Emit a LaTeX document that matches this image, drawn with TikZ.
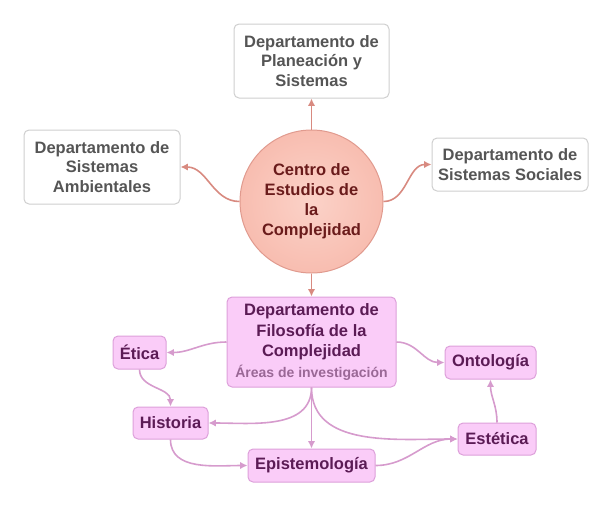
\documentclass[tikz,border=0pt]{standalone}
\usepackage{fontspec}
\setmainfont{Liberation Sans}
\usepackage{xcolor}
\usetikzlibrary{shapes.geometric,arrows.meta,positioning}

\definecolor{grayline}{HTML}{CFCFCF}
\definecolor{graytext}{HTML}{555555}
\definecolor{circfill}{HTML}{F8BDB0}
\definecolor{circlight}{HTML}{FBD2C8}
\definecolor{circline}{HTML}{E09A8E}
\definecolor{circtext}{HTML}{6A1B1B}
\definecolor{redarrow}{HTML}{D88A80}
\definecolor{pinkfill}{HTML}{FACCF8}
\definecolor{pinkline}{HTML}{DDA0DA}
\definecolor{pinktext}{HTML}{5B1B55}
\definecolor{pinksub}{HTML}{9A6896}
\definecolor{pinkarrow}{HTML}{D69BCD}

\begin{document}
\begin{tikzpicture}[
  x=1pt, y=-1pt,
  dept/.style={draw=grayline, line width=1pt, rounded corners=5pt, fill=white, align=center, text=graytext, inner sep=0pt, font=\bfseries\fontsize{16.5}{19.5}\selectfont},
  centro/.style={draw=circline, line width=1pt, circle, inner color=circlight, outer color=circfill, align=center, text=circtext, inner sep=0pt, minimum size=143pt, font=\bfseries\fontsize{16.5}{20}\selectfont},
  area/.style={draw=pinkline, line width=1pt, rounded corners=5pt, fill=pinkfill, align=center, text=pinktext, inner sep=0pt, font=\bfseries\fontsize{16.5}{20.5}\selectfont},
  arr/.style={-{Latex[length=2.6mm,width=2.6mm]}, line width=1.6pt, draw=redarrow},
  parr/.style={-{Latex[length=2.6mm,width=2.6mm]}, line width=1.6pt, draw=pinkarrow}
]
\useasboundingbox (0,0) rectangle (610,504);

\node[centro] (centro) at (311.5,201.5) {Centro de\\Estudios de\\la\\Complejidad};
\node[dept, minimum width=155pt, minimum height=74pt] (plan) at (311.5,61) {Departamento de\\Planeación y\\Sistemas};
\node[dept, minimum width=156pt, minimum height=74pt] (amb) at (102,167) {Departamento de\\Sistemas\\Ambientales};
\node[dept, minimum width=156pt, minimum height=53pt] (soc) at (510,164.5) {Departamento de\\Sistemas Sociales};

\node[area, minimum width=169pt, minimum height=90pt] (filo) at (311.5,342) {Departamento de\\Filosofía de la\\Complejidad\\{\color{pinksub}\fontsize{14}{17}\selectfont Áreas de investigación}};
\node[area, minimum width=53pt, minimum height=33pt] (etica) at (139.5,352.5) {Ética};
\node[area, minimum width=91pt, minimum height=33pt] (onto) at (490.5,362.5) {Ontología};
\node[area, minimum width=75pt, minimum height=32pt] (hist) at (170.5,423) {Historia};
\node[area, minimum width=78pt, minimum height=32pt] (este) at (497,439) {Estética};
\node[area, minimum width=127pt, minimum height=33pt] (epis) at (311.5,465.5) {Epistemología};

\draw[arr] (centro) -- (plan);
\draw[arr] (centro.west) to[out=180,in=0] (amb.east);
\draw[arr] (centro.east) to[out=0,in=180] (soc.west);
\draw[arr] (centro) -- (filo);

\draw[parr] (filo.west) to[out=180,in=0] (etica.east);
\draw[parr] (filo.east) to[out=0,in=180] (onto.west);
\draw[parr] (etica.south) to[out=270,in=90] (hist.north);
\draw[parr] (filo.south) to[out=270,in=0] (hist.east);
\draw[parr] (filo.south) -- (epis.north);
\draw[parr] (filo.south) to[out=270,in=180] (este.west);
\draw[parr] (hist.south) to[out=270,in=180] (epis.west);
\draw[parr] (epis.east) to[out=0,in=180] (este.west);
\draw[parr] (este.north) to[out=90,in=270] (onto.south);
\end{tikzpicture}
\end{document}
